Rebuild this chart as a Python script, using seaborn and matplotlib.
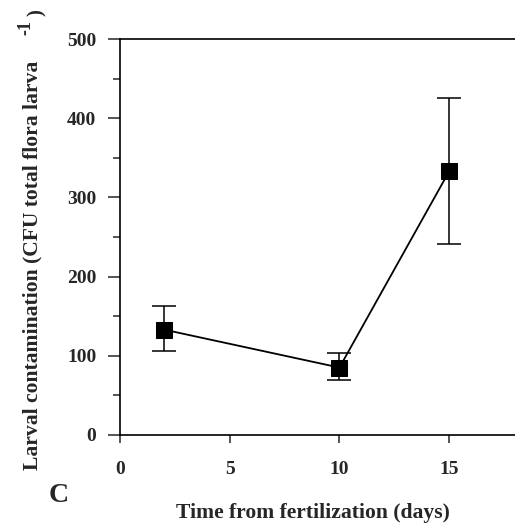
import numpy as np
import pandas as pd
import seaborn as sns
from matplotlib import pyplot as plt
from matplotlib.ticker import MultipleLocator

# values
days = [2, 10, 15]
cfu = [133, 85, 333]
err_low = [27, 16, 92]
err_high = [30, 18, 93]

sns.set_style('ticks')
plt.rcParams['font.family'] = ['Liberation Serif', 'DejaVu Serif']
plt.rcParams['font.weight'] = 'bold'

df = pd.DataFrame({'day': days, 'cfu': cfu})

fig = plt.figure(figsize=(5.15, 5.29), dpi=100)
ax = fig.add_axes([0.233, 0.178, 0.767, 0.748])

ax.errorbar(days, cfu, yerr=[err_low, err_high], fmt='none', ecolor='black',
            elinewidth=1.1, capsize=8.5, capthick=1.1, zorder=2)
sns.lineplot(data=df, x='day', y='cfu', ax=ax, color='black', linewidth=1.3,
             marker='s', markersize=12, markerfacecolor='black',
             markeredgecolor='black', zorder=3)

ax.set_xlim(0, 18)
ax.set_ylim(0, 500)
ax.set_xticks([0, 5, 10, 15])
ax.set_yticks([0, 100, 200, 300, 400, 500])
ax.yaxis.set_minor_locator(MultipleLocator(50))

for side in ['left', 'bottom', 'top']:
    ax.spines[side].set_linewidth(1.2)
    ax.spines[side].set_color('black')
ax.spines['right'].set_visible(False)

ax.tick_params(axis='y', which='major', direction='out', length=9, width=1.1,
               pad=8, labelsize=14)
ax.tick_params(axis='y', which='minor', direction='out', length=5, width=1.1)
ax.tick_params(axis='x', which='major', direction='out', length=6, width=1.1,
               pad=13, labelsize=14)
ax.tick_params(top=False)

ax.set_xlabel('Time from fertilization (days)', fontsize=15.6, fontweight='bold')
ax.xaxis.set_label_coords(0.489, -0.172)
ax.set_ylabel('Larval contamination (CFU total flora larva', fontsize=15.6,
              fontweight='bold')
ax.yaxis.set_label_coords(-0.197, 0.429)
# superscript and closing bracket, placed as in the original
fig.text(0.050, 0.947, '-1', rotation=90, fontsize=13, fontweight='bold',
         ha='center', va='center')
fig.text(0.072, 0.976, ')', rotation=90, fontsize=15, fontweight='bold',
         ha='center', va='center')

fig.text(0.114, 0.064, 'C', fontsize=20, fontweight='bold', ha='center',
         va='center')

fig.savefig('out.png', dpi=100)
